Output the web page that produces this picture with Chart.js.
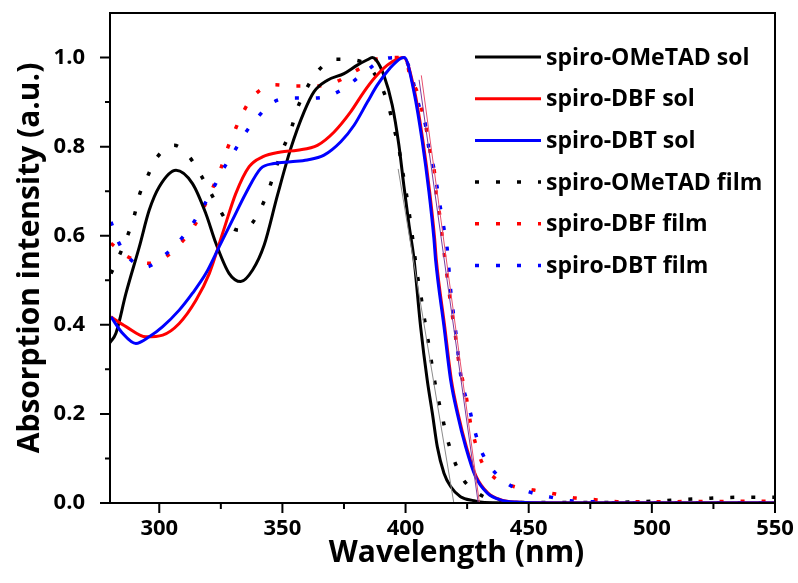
<!DOCTYPE html>
<html>
<head>
<meta charset="utf-8">
<script src="https://cdn.jsdelivr.net/npm/chart.js@4.4.1/dist/chart.umd.min.js"></script>
<style>
    body { margin: 0; background: #fff; }
</style>
</head>
<body>
<canvas id="chart" width="798" height="583"></canvas>
<script>
// solution spectra
const omeSolX = [280, 282.4, 286.5, 291.9, 295.9, 300, 306.8, 313.5, 318.9, 323, 328.4, 333.1, 337.9, 342.6, 348, 353.4, 358.8, 362.8, 368.3, 375, 380.4, 384.5, 386.5, 388, 391.2, 394.6, 397.3, 399.3, 401.4, 403.4, 406.1, 408.8, 410.9, 412.9, 415.6, 418.3, 422.3, 427.7, 432, 450, 500, 550];
const omeSolY = [0.36, 0.381, 0.471, 0.575, 0.657, 0.71, 0.747, 0.717, 0.65, 0.583, 0.515, 0.497, 0.523, 0.579, 0.691, 0.796, 0.878, 0.923, 0.949, 0.964, 0.983, 0.995, 1.0, 0.995, 0.96, 0.893, 0.803, 0.713, 0.624, 0.549, 0.396, 0.276, 0.201, 0.126, 0.067, 0.037, 0.014, 0.005, 0.001, 0, 0, 0];

const dbfSolX = [280.4, 286.5, 294.6, 301.4, 308.1, 314.9, 320.3, 325.7, 331.1, 336.5, 341.9, 349.3, 356.1, 364.2, 371, 377.7, 383.1, 387.2, 392.6, 397.3, 399.2, 403.7, 407.1, 409.8, 411.8, 412.5, 415.9, 418.6, 421.3, 424.7, 428.7, 433.5, 438.8, 445, 460, 550];
const dbfSolY = [0.418, 0.396, 0.373, 0.377, 0.403, 0.455, 0.515, 0.605, 0.695, 0.755, 0.777, 0.788, 0.792, 0.803, 0.833, 0.878, 0.923, 0.953, 0.983, 0.998, 1.0, 0.923, 0.811, 0.698, 0.594, 0.545, 0.396, 0.276, 0.201, 0.126, 0.059, 0.022, 0.007, 0.002, 0, 0];

const dbtSolX = [280.4, 285.1, 290.5, 295.9, 301.4, 308.1, 313.5, 318.9, 324.3, 329.7, 335.1, 341.2, 346.6, 353.4, 360.1, 366.9, 373.7, 379.1, 384.5, 388.5, 394, 398, 399.5, 403.4, 406.8, 409.5, 411.5, 412.2, 415.6, 418.3, 421, 424.4, 428.4, 433.2, 438.5, 445, 460, 550];
const dbtSolY = [0.418, 0.381, 0.358, 0.373, 0.396, 0.433, 0.471, 0.515, 0.575, 0.635, 0.695, 0.751, 0.762, 0.766, 0.77, 0.781, 0.811, 0.848, 0.9, 0.938, 0.978, 0.998, 1.0, 0.923, 0.811, 0.698, 0.594, 0.545, 0.396, 0.276, 0.201, 0.126, 0.059, 0.022, 0.007, 0.002, 0, 0];

// film spectra
const omeFilmX = [280.4, 283.8, 287.2, 289.9, 291.9, 295.3, 298.7, 306.1, 312.2, 316.9, 321, 325, 329.1, 333, 336.5, 341.2, 344.6, 347.3, 350, 353.4, 356.1, 359.5, 363.5, 371.6, 379.7, 385.8, 390.6, 393.2, 395.3, 397.3, 398.6, 400, 402.5, 404.7, 406.1, 407.4, 408.8, 410.2, 411.5, 413.1, 414.9, 416.9, 422.3, 427.7, 436.5, 450, 480, 495.3, 504, 512.7, 521, 529, 538, 546.7, 550];
const omeFilmY = [0.515, 0.556, 0.601, 0.646, 0.691, 0.734, 0.773, 0.803, 0.777, 0.736, 0.695, 0.654, 0.62, 0.612, 0.62, 0.661, 0.706, 0.751, 0.792, 0.837, 0.886, 0.927, 0.964, 0.996, 0.994, 0.975, 0.93, 0.889, 0.841, 0.796, 0.751, 0.706, 0.61, 0.515, 0.47, 0.422, 0.377, 0.328, 0.283, 0.238, 0.194, 0.145, 0.063, 0.029, 0.005, 0.001, 0.001, 0.003, 0.005, 0.008, 0.01, 0.012, 0.013, 0.013, 0.013];

const dbfFilmX = [280.4, 287.2, 295.9, 302.7, 308.8, 314.2, 321.6, 325, 327.7, 330.8, 334.5, 338.5, 346.6, 355.4, 363.5, 371.6, 379.1, 389.2, 395, 400, 402, 404.7, 406.8, 408.8, 410.2, 411.8, 412.6, 414, 414.9, 418.3, 420.3, 421.6, 424.4, 426.4, 428.4, 431.2, 436.5, 444, 452.1, 461, 469, 477.8, 485.9, 500, 550];
const dbfFilmY = [0.583, 0.553, 0.538, 0.553, 0.584, 0.622, 0.706, 0.751, 0.796, 0.838, 0.882, 0.915, 0.939, 0.936, 0.936, 0.945, 0.968, 0.998, 1.0, 0.998, 0.953, 0.923, 0.878, 0.829, 0.781, 0.74, 0.687, 0.642, 0.597, 0.448, 0.373, 0.317, 0.246, 0.179, 0.134, 0.089, 0.055, 0.037, 0.029, 0.02, 0.011, 0.007, 0.003, 0.003, 0.004];

const dbtFilmX = [280.4, 283.1, 287.2, 294.6, 301.4, 307.5, 313.2, 317.8, 321.9, 325.7, 330.2, 334.5, 339.5, 346, 354.7, 362.8, 370.3, 377, 383.8, 391.9, 397, 401, 405.4, 408.1, 409.5, 411.5, 412.9, 414.2, 415.6, 416.9, 418.3, 420.3, 422.3, 426.4, 428.4, 431.2, 441.3, 450.1, 458.2, 467, 475.1, 490, 550];
const dbtFilmY = [0.631, 0.59, 0.553, 0.53, 0.553, 0.584, 0.624, 0.665, 0.706, 0.747, 0.787, 0.827, 0.863, 0.899, 0.909, 0.909, 0.917, 0.939, 0.969, 0.998, 1.0, 0.985, 0.893, 0.848, 0.796, 0.751, 0.706, 0.661, 0.616, 0.571, 0.478, 0.388, 0.291, 0.201, 0.156, 0.111, 0.044, 0.025, 0.014, 0.005, 0.003, 0, 0];

// band-edge tangent lines (thin)
const fitOmeX = [397, 419.6];
const fitOmeY = [0.75, 0];
const fitDbfX = [406.4, 430];
const fitDbfY = [0.96, 0];
const fitDbtX = [405.5, 429.5];
const fitDbtY = [0.95, 0];

// axis ticks
const xMajorTicks = [300, 350, 400, 450, 500, 550];
const xMinorTicks = [325, 375, 425, 475, 525];
const yMajorTicks = [0, 0.2, 0.4, 0.6, 0.8, 1.0];
const yMinorTicks = [0.1, 0.3, 0.5, 0.7, 0.9];

const xTitle = 'Wavelength (nm)';
const yTitle = 'Absorption intensity (a.u.)';

const canvas = document.getElementById('chart');

Chart.defaults.font.family = "'Open Sans', sans-serif";
Chart.defaults.font.weight = 'bold';
Chart.defaults.color = '#000';

function toPoints(xs, ys){
    return xs.map((x, i) => ({ x: x, y: ys[i] }));
}

function solid(label, xs, ys, color, order){
    return {
        label: label,
        data: toPoints(xs, ys),
        borderColor: color,
        borderWidth: 3,
        pointRadius: 0,
        cubicInterpolationMode: 'monotone',
        order: order
    };
}

function dotted(label, xs, ys, color, order){
    return {
        label: label,
        data: toPoints(xs, ys),
        borderColor: color,
        borderWidth: 3.5,
        borderDash: [4, 17],
        pointRadius: 0,
        cubicInterpolationMode: 'monotone',
        order: order
    };
}

function fitLine(xs, ys, color){
    return {
        label: '',
        data: toPoints(xs, ys),
        borderColor: color,
        borderWidth: 1,
        pointRadius: 0,
        order: 0
    };
}

// no automatic label overflow padding, the plot box is fixed
function noPadding(scale){
    scale.paddingTop = 0;
    scale.paddingBottom = 0;
    scale.paddingLeft = 0;
    scale.paddingRight = 0;
}

// frame box plus major / minor tick marks, x title (sits right of centre in the original)
const framePlugin = {
    id: 'frame',
    afterDraw(chart){
        const ctx = chart.ctx;
        const area = chart.chartArea;
        const xs = chart.scales.x;
        const ys = chart.scales.y;
        ctx.save();
        ctx.strokeStyle = '#000';
        ctx.lineWidth = 2;
        ctx.strokeRect(area.left, area.top, area.right - area.left, area.bottom - area.top);
        ctx.beginPath();
        xMajorTicks.forEach(v => {
            const px = xs.getPixelForValue(v);
            ctx.moveTo(px, area.bottom);
            ctx.lineTo(px, area.bottom + 10);
        });
        xMinorTicks.forEach(v => {
            const px = xs.getPixelForValue(v);
            ctx.moveTo(px, area.bottom);
            ctx.lineTo(px, area.bottom + 6);
        });
        yMajorTicks.forEach(v => {
            const py = ys.getPixelForValue(v);
            ctx.moveTo(area.left, py);
            ctx.lineTo(area.left - 10, py);
        });
        yMinorTicks.forEach(v => {
            const py = ys.getPixelForValue(v);
            ctx.moveTo(area.left, py);
            ctx.lineTo(area.left - 5, py);
        });
        ctx.stroke();

        ctx.font = "bold 30px 'Open Sans', sans-serif";
        ctx.textAlign = 'center';
        ctx.textBaseline = 'middle';
        ctx.fillStyle = '#000';
        ctx.fillText(xTitle, (area.left + area.right) / 2 + 14, 553);
        ctx.restore();
    }
};

// legend inside the plot, upper right
const legendPlugin = {
    id: 'insideLegend',
    afterDraw(chart){
        const ctx = chart.ctx;
        const items = chart.data.datasets.filter(d => d.label !== '');
        ctx.save();
        ctx.font = "bold 23px 'Open Sans', sans-serif";
        ctx.textBaseline = 'middle';
        ctx.fillStyle = '#000';
        items.forEach((d, i) => {
            const y = 57 + i * 41.7;
            ctx.beginPath();
            ctx.strokeStyle = d.borderColor;
            ctx.lineWidth = d.borderWidth;
            ctx.setLineDash(d.borderDash || []);
            ctx.moveTo(475, y);
            ctx.lineTo(541, y);
            ctx.stroke();
            ctx.setLineDash([]);
            ctx.fillText(d.label, 546, y + 1);
        });
        ctx.restore();
    }
};

new Chart(canvas, {
    type: 'line',
    data: {
        datasets: [
            solid('spiro-OMeTAD sol', omeSolX, omeSolY, '#000000', 3),
            solid('spiro-DBF sol', dbfSolX, dbfSolY, '#ff0000', 2),
            solid('spiro-DBT sol', dbtSolX, dbtSolY, '#0000ff', 1),
            dotted('spiro-OMeTAD film', omeFilmX, omeFilmY, '#000000', 6),
            dotted('spiro-DBF film', dbfFilmX, dbfFilmY, '#ff0000', 5),
            dotted('spiro-DBT film', dbtFilmX, dbtFilmY, '#0000ff', 4),
            fitLine(fitOmeX, fitOmeY, '#8a8a8a'),
            fitLine(fitDbfX, fitDbfY, '#e8506e'),
            fitLine(fitDbtX, fitDbtY, '#7a3c9c')
        ]
    },
    options: {
        responsive: false,
        animation: false,
        layout: { padding: { left: 0, top: 13, right: 23, bottom: 0 } },
        plugins: {
            legend: { display: false },
            tooltip: { enabled: false }
        },
        scales: {
            x: {
                type: 'linear',
                min: 280,
                max: 550,
                afterFit: scale => { scale.height = 80; noPadding(scale); },
                afterBuildTicks: scale => { scale.ticks = xMajorTicks.map(v => ({ value: v })); },
                grid: { display: false },
                border: { display: false },
                ticks: { font: { size: 22, weight: 'bold' }, padding: 5, maxRotation: 0 }
            },
            y: {
                min: 0,
                max: 1.1,
                afterFit: scale => { scale.width = 110; noPadding(scale); },
                afterBuildTicks: scale => { scale.ticks = yMajorTicks.map(v => ({ value: v })); },
                grid: { display: false },
                border: { display: false },
                ticks: {
                    font: { size: 22, weight: 'bold' },
                    padding: 17,
                    callback: v => v.toFixed(1)
                },
                title: {
                    display: true,
                    text: yTitle,
                    font: { size: 30, weight: 'bold' },
                    padding: { top: 12, bottom: 0 }
                }
            }
        }
    },
    plugins: [framePlugin, legendPlugin]
});
</script>
</body>
</html>
